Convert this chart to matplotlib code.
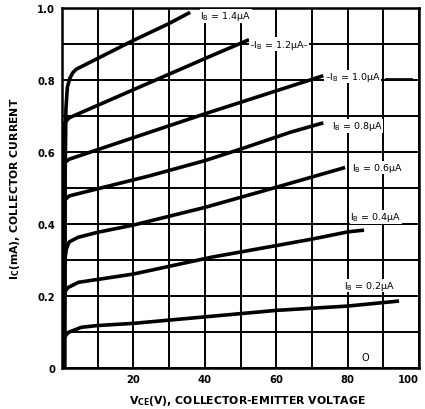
import numpy as np
import matplotlib
matplotlib.use("Agg")
import matplotlib.pyplot as plt

plt.rcParams['font.family'] = ['DejaVu Sans']
plt.rcParams['mathtext.fontset'] = 'dejavusans'
plt.rcParams['mathtext.default'] = 'regular'

# ---- data ----
ib_labels = ['0.2', '0.4', '0.6', '0.8', '1.0', '1.2', '1.4']

vce_02 = [0.4, 0.5, 1.0, 1.8, 5.4, 10, 20, 40, 60, 80, 94.4]
ic_02 = [0.0, 0.08, 0.09, 0.099, 0.113, 0.118, 0.124, 0.142, 0.16, 0.172, 0.186]

vce_04 = [0.4, 0.6, 1.0, 1.8, 4.6, 10, 20, 42, 60, 70, 80, 84.6]
ic_04 = [0.0, 0.2, 0.215, 0.224, 0.238, 0.246, 0.261, 0.308, 0.34, 0.358, 0.378, 0.383]

vce_06 = [0.5, 0.8, 1.2, 2.0, 4.5, 10, 20, 40, 60, 79.3]
ic_06 = [0.0, 0.30, 0.33, 0.35, 0.363, 0.377, 0.397, 0.446, 0.502, 0.557]

vce_08 = [0.5, 0.6, 2.0, 24.6, 40, 50, 64, 73.2]
ic_08 = [0.0, 0.465, 0.478, 0.534, 0.576, 0.608, 0.655, 0.681]

vce_10 = [0.6, 0.7, 2.0, 24.6, 40, 73.2]
ic_10 = [0.0, 0.57, 0.58, 0.655, 0.706, 0.812]

vce_12 = [0.6, 0.7, 2.0, 20, 42, 52.4]
ic_12 = [0.0, 0.68, 0.695, 0.773, 0.868, 0.912]

vce_14 = [0.8, 0.9, 1.1, 1.5, 2.2, 3.0, 4.0, 6.0, 10, 20, 30, 35.9]
ic_14 = [0.0, 0.55, 0.72, 0.78, 0.805, 0.82, 0.83, 0.84, 0.86, 0.91, 0.957, 0.988]

curves_v = [vce_02, vce_04, vce_06, vce_08, vce_10, vce_12, vce_14]
curves_i = [ic_02, ic_04, ic_06, ic_08, ic_10, ic_12, ic_14]

# label anchor positions (V, mA)
label_v = [78.9, 80.8, 81.1, 75.5, 73.6, 52.4, 38.7]
label_i = [0.229, 0.42, 0.557, 0.673, 0.81, 0.90, 0.978]
label_prefix = ['', '', '', '', '\u2013', '\u2013', '']
label_suffix = ['', '', '', '', '', '\u2013', '']

xtick_vals = [0, 20, 40, 60, 80, 100]
xtick_labels = ['', '20', '40', '60', '80', '100']
ytick_vals = [0, 0.2, 0.4, 0.6, 0.8, 1.0]
ytick_labels = ['0', '0.2', '0.4', '0.6', '0.8', '1.0']

# ---- figure ----
fig = plt.figure(figsize=(4.25, 4.1), dpi=100)
ax = fig.add_axes([62/425, 41/410, 357/425, 360/410])
ax.set_xlim(0, 100)
ax.set_ylim(0, 1.0)

ax.set_xticks(xtick_vals)
ax.set_xticklabels(xtick_labels, fontsize=7.2, fontweight='bold')
ax.set_yticks(ytick_vals)
ax.set_yticklabels(ytick_labels, fontsize=7.2, fontweight='bold')
ax.get_xticklabels()[-1].set_horizontalalignment('right')
ax.set_xticks(np.arange(10, 100, 20), minor=True)
ax.set_yticks(np.arange(0.1, 1.0, 0.2), minor=True)
ax.tick_params(which='both', length=0)
ax.tick_params(axis='x', pad=4)
ax.tick_params(axis='y', pad=5)
ax.grid(which='both', color='black', linewidth=1.4)
ax.set_axisbelow(True)
for s in ax.spines.values():
    s.set_linewidth(1.8)
    s.set_color('black')

for v, i in zip(curves_v, curves_i):
    ax.plot(v, i, color='black', linewidth=2.6, solid_capstyle='butt',
            solid_joinstyle='round', zorder=3)

for lab, lv, li, pre, suf in zip(ib_labels, label_v, label_i, label_prefix, label_suffix):
    ax.text(lv, li, pre + 'I$_B$ = ' + lab + '\u00b5A' + suf, fontsize=6.8,
            ha='left', va='center', color='black', zorder=4,
            bbox=dict(facecolor='white', edgecolor='none', pad=0.3))

# trailing leader after the 1.0 uA label
ax.plot([90.5, 98], [0.806, 0.806], color='black', linewidth=0.6, zorder=4)

ax.text(84.9, 0.031, 'O', fontsize=7, ha='center', va='center', color='black', zorder=4,
        bbox=dict(facecolor='white', edgecolor='none', pad=0.3))

ax.set_xlabel('V$_{\\mathbf{CE}}$(V), COLLECTOR-EMITTER VOLTAGE', fontsize=7.8,
              fontweight='bold')
ax.xaxis.set_label_coords(0.52, -0.07)
ax.set_ylabel('I$_{\\mathbf{C}}$(mA), COLLECTOR CURRENT', fontsize=7.8,
              fontweight='bold')
ax.yaxis.set_label_coords(-0.112, 0.5)

fig.savefig('out.png', dpi=100)
